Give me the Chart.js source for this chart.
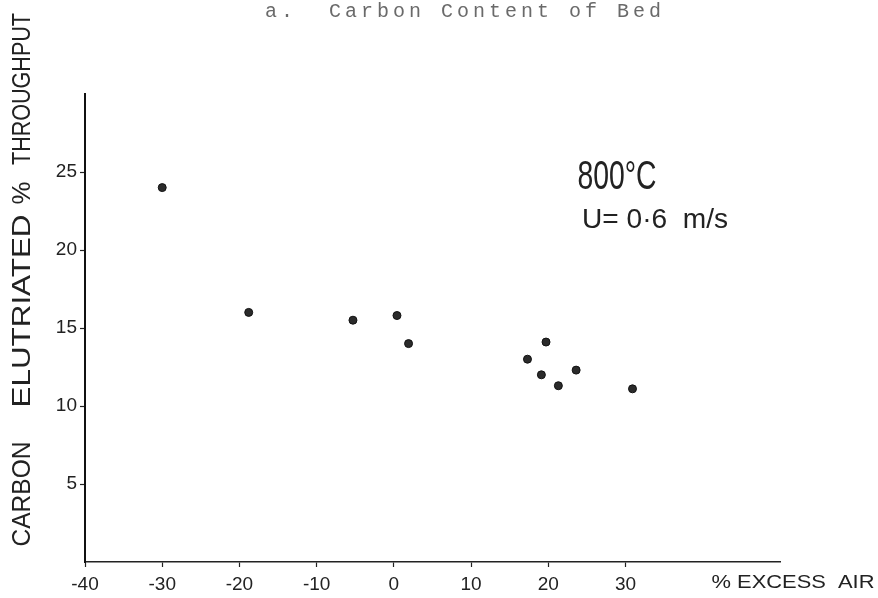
<!DOCTYPE html>
<html>
<head>
<meta charset="utf-8">
<script src="https://cdn.jsdelivr.net/npm/chart.js@4"></script>
<style>
  body { margin: 0; background: #fff; }
  canvas { display: block; }
</style>
</head>
<body>
<canvas id="grafico" width="878" height="598"></canvas>
<script>
// puntos (% exceso de aire vs % carbono elutriado)
const excesoAire = [-30, -18.8, -5.3, 0.4, 1.9, 17.3, 19.1, 19.7, 21.3, 23.6, 30.9];
const carbonoElutriado = [24.0, 16.0, 15.5, 15.8, 14.0, 13.0, 12.0, 14.1, 11.3, 12.3, 11.1];

// marcas de los ejes
const ticksX = [-40, -30, -20, -10, 0, 10, 20, 30];
const ticksY = [5, 10, 15, 20, 25];

const puntos = excesoAire.map((x, i) => ({ x: x, y: carbonoElutriado[i] }));

// dibuja texto centrado y estirado a un ancho dado (letras a mano)
function textoAjustado(ctx, texto, cx, cy, ancho, rot) {
    ctx.save();
    ctx.translate(cx, cy);
    ctx.rotate(rot || 0);
    const w = ctx.measureText(texto).width;
    ctx.scale(ancho / w, 1);
    ctx.fillText(texto, 0, 0);
    ctx.restore();
}

const textos = {
    id: 'textos',
    afterDraw(chart) {
        const ctx = chart.ctx;
        ctx.save();

        // titulo a maquina
        ctx.fillStyle = '#6a6a6a';
        ctx.font = '20px "Liberation Mono"';
        ctx.textAlign = 'left';
        ctx.textBaseline = 'alphabetic';
        ctx.letterSpacing = '4px';
        ctx.fillText('a.  Carbon Content of Bed', 265, 17);
        ctx.letterSpacing = '0px';

        ctx.fillStyle = '#222';
        ctx.textAlign = 'center';
        ctx.textBaseline = 'middle';

        // titulo eje Y, palabra por palabra
        ctx.font = '25px "Liberation Sans"';
        textoAjustado(ctx, 'CARBON', 23, 494, 105, -Math.PI / 2);
        textoAjustado(ctx, 'ELUTRIATED', 23, 311, 193, -Math.PI / 2);
        textoAjustado(ctx, '%', 23, 193, 23, -Math.PI / 2);
        textoAjustado(ctx, 'THROUGHPUT', 23, 89, 152, -Math.PI / 2);

        // titulo eje X
        ctx.font = '19px "Liberation Sans"';
        textoAjustado(ctx, '% EXCESS  AIR', 793, 583, 163);

        // anotacion
        ctx.font = '40px "Liberation Sans"';
        textoAjustado(ctx, '800°C', 617, 178, 79);
        ctx.font = '28px "Liberation Sans"';
        textoAjustado(ctx, 'U= 0·6  m/s', 655, 220, 146);

        ctx.restore();
    }
};

new Chart(document.getElementById('grafico').getContext('2d'), {
    type: 'scatter',
    data: {
        datasets: [{
            data: puntos,
            pointRadius: 4,
            pointBackgroundColor: '#2b2b2b',
            pointBorderColor: '#111',
            pointBorderWidth: 1
        }]
    },
    options: {
        responsive: false,
        animation: false,
        layout: { padding: { top: 94, right: 98, bottom: 0, left: 0 } },
        plugins: {
            legend: { display: false },
            tooltip: { enabled: false }
        },
        scales: {
            x: {
                type: 'linear',
                min: -40,
                max: 50,
                afterBuildTicks: s => { s.ticks = ticksX.map(v => ({ value: v })); },
                afterFit: s => { s.height = 36; },
                border: { display: true, color: '#222', width: 1.5 },
                grid: { drawOnChartArea: false, drawTicks: true, tickLength: 5, tickColor: '#222', tickWidth: 1.2 },
                ticks: {
                    padding: 6,
                    color: '#222',
                    font: { family: 'Liberation Sans', size: 19 },
                    maxRotation: 0
                }
            },
            y: {
                type: 'linear',
                min: 0,
                max: 30,
                afterBuildTicks: s => { s.ticks = ticksY.map(v => ({ value: v })); },
                afterFit: s => { s.width = 85; },
                border: { display: true, color: '#111', width: 2 },
                grid: { drawOnChartArea: false, drawTicks: true, tickLength: 5, tickColor: '#222', tickWidth: 1.2 },
                ticks: {
                    padding: 3,
                    color: '#222',
                    font: { family: 'Liberation Sans', size: 19 }
                }
            }
        }
    },
    plugins: [textos]
});
</script>
</body>
</html>
